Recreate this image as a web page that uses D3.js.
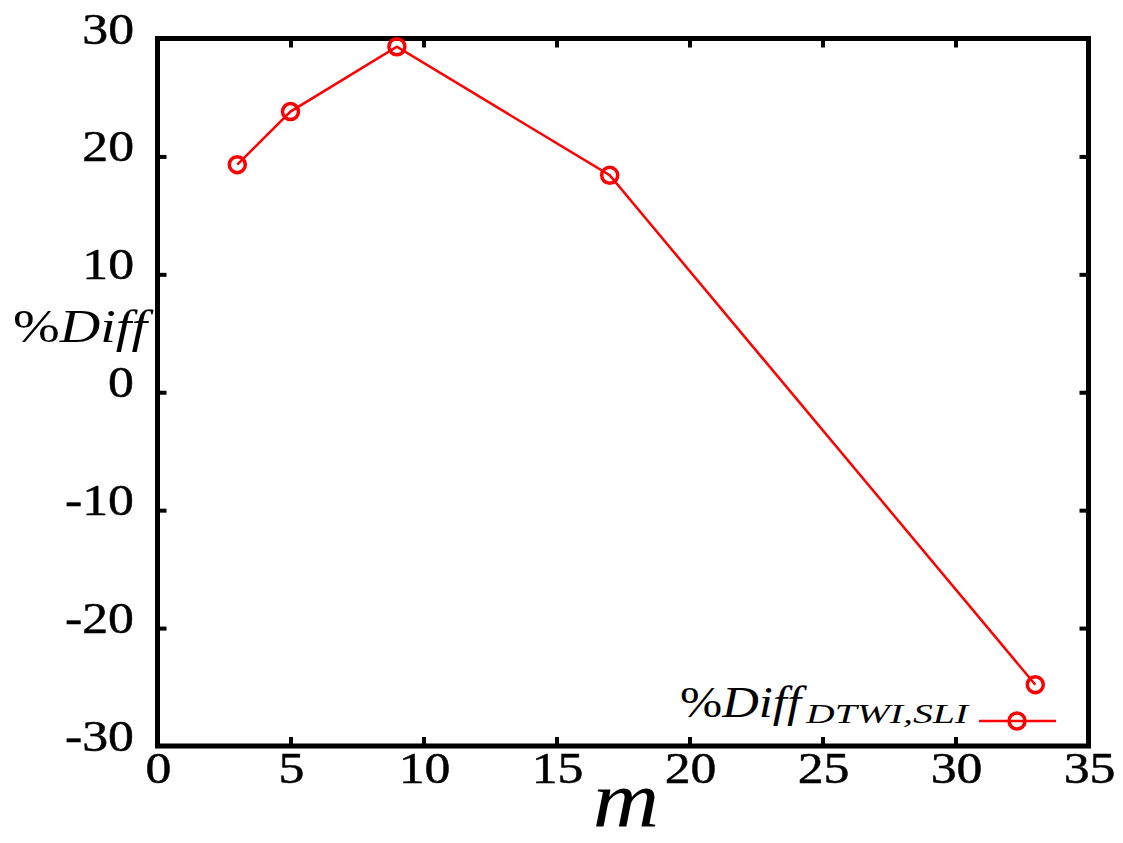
<!DOCTYPE html>
<html>
<head>
<meta charset="utf-8">
<script src="https://cdn.jsdelivr.net/npm/d3@7/dist/d3.min.js"></script>
<style>
  html, body { margin: 0; padding: 0; background: #fff; }
  svg { display: block; }
</style>
</head>
<body>
<svg id="chart" width="1123" height="843"></svg>
<script>
// ---- data ----
const mValues = [3, 5, 9, 17, 33];
const diffValues = [19.3, 23.8, 29.3, 18.4, -24.8];
const xTicks = [0, 5, 10, 15, 20, 25, 30, 35];
const yTicks = [-30, -20, -10, 0, 10, 20, 30];
const xDomain = [0, 35];
const yDomain = [-30, 30];
const seriesName = "Diff";
const seriesSub = "DTWI,SLI";

const FONT = '"Liberation Serif"';
const svg = d3.select("#chart");
const L = 157.5, R = 1088.5, T = 38.5, B = 746;
const x = d3.scaleLinear().domain(xDomain).range([L, R]);
const y = d3.scaleLinear().domain(yDomain).range([B, T]);

// inward ticks, all four sides
const tickLen = 9;
const innerX = xTicks.filter(v => v !== xDomain[0] && v !== xDomain[1]);
const innerY = yTicks.filter(v => v !== yDomain[0] && v !== yDomain[1]);
const axB = svg.append("g").attr("transform", `translate(0,${B})`)
  .call(d3.axisBottom(x).tickValues(innerX).tickSize(-tickLen).tickFormat(""));
const axT = svg.append("g").attr("transform", `translate(0,${T})`)
  .call(d3.axisTop(x).tickValues(innerX).tickSize(-tickLen).tickFormat(""));
const axL = svg.append("g").attr("transform", `translate(${L},0)`)
  .call(d3.axisLeft(y).tickValues(innerY).tickSize(-tickLen).tickFormat(""));
const axRt = svg.append("g").attr("transform", `translate(${R},0)`)
  .call(d3.axisRight(y).tickValues(innerY).tickSize(-tickLen).tickFormat(""));
[axB, axT, axL, axRt].forEach(g => {
  g.select(".domain").remove();
  g.selectAll(".tick line").attr("stroke", "#000").attr("stroke-width", 4);
});

// frame
svg.append("rect").attr("x", L).attr("y", T).attr("width", R - L).attr("height", B - T)
  .attr("fill", "none").attr("stroke", "#000").attr("stroke-width", 5);

// tick labels (slightly widened like the reference)
svg.append("g").selectAll("text").data(xTicks).join("text")
  .attr("transform", d => `translate(${x(d) + 1},783) scale(1.15,1)`)
  .attr("text-anchor", "middle")
  .style("font-family", FONT).style("font-size", "45px")
  .attr("stroke", "#000").attr("stroke-width", 0.5)
  .text(d => d);
svg.append("g").selectAll("text").data(yTicks).join("text")
  .attr("transform", d => `translate(134,${y(d) + 5}) scale(1.15,1)`)
  .attr("text-anchor", "end")
  .style("font-family", FONT).style("font-size", "45px")
  .attr("stroke", "#000").attr("stroke-width", 0.5)
  .text(d => d);

// axis titles
svg.append("text")
  .attr("transform", "translate(626,826) scale(1.15,1)")
  .attr("text-anchor", "middle")
  .style("font-family", FONT).style("font-size", "80px").style("font-style", "italic")
  .text("m");
const yl = svg.append("text").attr("x", 13).attr("y", 342)
  .attr("textLength", 134).attr("lengthAdjust", "spacingAndGlyphs")
  .style("font-family", FONT).style("font-size", "46px");
yl.append("tspan").text("%");
yl.append("tspan").style("font-style", "italic").text(seriesName);

// series line
const color = "#ff0000";
const pts = mValues.map((m, i) => [m, diffValues[i]]);
svg.append("path").datum(pts)
  .attr("fill", "none").attr("stroke", color).attr("stroke-width", 2.5)
  .attr("d", d3.line().x(d => x(d[0])).y(d => y(d[1])));
svg.append("g").selectAll("circle").data(pts).join("circle")
  .attr("cx", d => x(d[0])).attr("cy", d => y(d[1])).attr("r", 8)
  .attr("fill", "none").attr("stroke", color).attr("stroke-width", 3.5);

// legend
const lg = svg.append("text").attr("x", 680).attr("y", 717)
  .attr("textLength", 121).attr("lengthAdjust", "spacingAndGlyphs")
  .style("font-family", FONT).style("font-size", "45px");
lg.append("tspan").text("%");
lg.append("tspan").style("font-style", "italic").text(seriesName);
svg.append("text").attr("x", 806).attr("y", 723)
  .attr("textLength", 162).attr("lengthAdjust", "spacingAndGlyphs")
  .style("font-family", FONT).style("font-size", "27px").style("font-style", "italic")
  .text(seriesSub);
svg.append("line").attr("x1", 979).attr("x2", 1056).attr("y1", 721).attr("y2", 721)
  .attr("stroke", color).attr("stroke-width", 2.5);
svg.append("circle").attr("cx", 1017).attr("cy", 721).attr("r", 8)
  .attr("fill", "none").attr("stroke", color).attr("stroke-width", 3.5);
</script>
</body>
</html>
